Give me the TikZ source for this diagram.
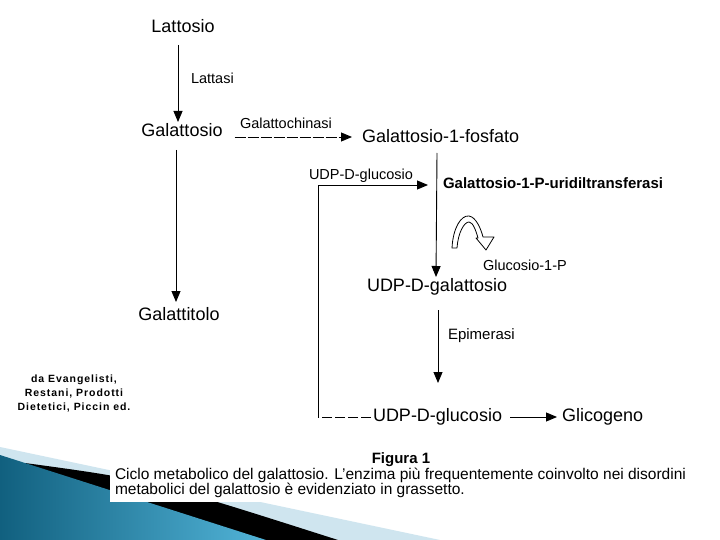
\documentclass[tikz,border=0pt]{standalone}
\usepackage{fontspec}
\setmainfont{Liberation Sans}
\newfontfamily\srcfont[LetterSpace=9]{Liberation Sans}
\usetikzlibrary{arrows.meta,calc}
\definecolor{pale}{HTML}{CFE5EF}
\definecolor{bluedark}{HTML}{11607F}
\definecolor{bluelight}{HTML}{52B4D8}
\newcommand{\myfs}[1]{\fontsize{#1}{#1}\selectfont}
\begin{document}
\begin{tikzpicture}[x=1pt,y=-1pt,
  lbl/.style={inner sep=0pt, outer sep=0pt},
  big/.style={lbl, font=\myfs{18}},
  small/.style={lbl, font=\myfs{14.5}},
  arr/.style={line width=0.9pt, -{Triangle[length=11pt,width=9pt]}},
  dsh/.style={line width=0.9pt, dash pattern=on 11pt off 2pt},
  srcstyle/.style={lbl, font=\srcfont\bfseries\myfs{10.5}, anchor=base}]
\useasboundingbox (0,0) rectangle (720,540);
\fill[white] (0,0) rectangle (720,540);
% decoration bottom-left
\fill[pale] (0,447) -- (440,540) -- (0,540) -- cycle;
\fill[black] (25,463) .. controls (150,480) .. (338,540) -- (0,540) -- cycle;
\shade[left color=bluedark, right color=bluelight] (0,455) -- (266,540) -- (0,540) -- cycle;
\fill[white] (110,0) rectangle (720,502);
% nodes
\node[big, anchor=base] (lat) at (183,33) {Lattosio};
\node[big, anchor=base] (gal) at (182,137) {Galattosio};
\node[big, anchor=base west] (g1p) at (362,143) {Galattosio-1-fosfato};
\node[big, anchor=base] (galtit) at (179,320) {Galattitolo};
\node[big, anchor=base west] (udpgal) at (367,291) {UDP-D-galattosio};
\node[big, anchor=base west] (ugluc2) at (373,421) {UDP-D-glucosio};
\node[big, anchor=base west] (glic) at (562,421) {Glicogeno};
\node[small, anchor=base west] (lattasi) at (191,84) {Lattasi};
\node[small, anchor=base west] (gch) at (240,129) {Galattochinasi};
\node[small, anchor=base west] (ugluc1) at (309,180) {UDP-D-glucosio};
\node[lbl, font=\myfs{15}\bfseries, anchor=base west] (transf) at (443,189) {Galattosio-1-P-uridiltransferasi};
\node[small, anchor=base west] (gluc1p) at (483,270) {Glucosio-1-P};
\node[lbl, font=\myfs{15}, anchor=base west] (epim) at (448,339) {Epimerasi};
\node[lbl, font=\myfs{15}\bfseries, anchor=base] (fig) at (401,463) {Figura 1};
\node[lbl, font=\myfs{15.5}, anchor=base west] (cap1) at (115,479) {Ciclo metabolico del galattosio. L'enzima più frequentemente coinvolto nei disordini};
\node[lbl, font=\myfs{15.5}, anchor=base west] (cap2) at (115,494) {metabolici del galattosio è evidenziato in grassetto.};
\node[srcstyle] (src1) at (74,382) {da Evangelisti,};
\node[srcstyle] (src2) at (74,396) {Restani, Prodotti};
\node[srcstyle] (src3) at (74,410) {Dietetici, Piccin ed.};
% connectors
\draw[arr] ($(lat.base)+(-5,12)$) -- ($(gal.base)+(-4,-15)$);
\draw[dsh, -{Triangle[length=11pt,width=9pt]}] ($(gal.base east)+(12,0)$) -- ($(g1p.base west)+(-10,-6)$);
\draw[arr] ($(gal.base)+(-6,13)$) -- ($(galtit.base)+(-3,-18)$);
\draw[arr] ($(g1p.base west)+(75,10)$) -- ($(udpgal.base west)+(69,-14)$);
\coordinate (ctop) at (318,185);
\coordinate (cbot) at (318,417);
\draw[line width=0.9pt, dash pattern=on 10pt off 3pt] ($(ugluc2.base west)+(-2,-4)$) -- (cbot);
\draw[arr] (cbot) -- (ctop) -- ($(ugluc1.base west)+(119,5)$);
\draw[arr] ($(ugluc2.base east)+(8,-4)$) -- ($(glic.base west)+(-5,-4)$);
\draw[arr] ($(udpgal.base west)+(71,19)$) -- ($(ugluc2.base west)+(65,-38)$);
% hollow curved arrow
\draw[line width=0.8pt, fill=white, line join=round] (452,248) .. controls (453,228) and (461,215) .. (469,216) .. controls (476,217) and (481,229) .. (483,237) -- (494,237) -- (486,250) -- (476,238) -- (478,238) .. controls (476,231) and (473,222) .. (469,222) .. controls (464,222) and (458,233) .. (457,248) -- cycle;
\end{tikzpicture}
\end{document}
